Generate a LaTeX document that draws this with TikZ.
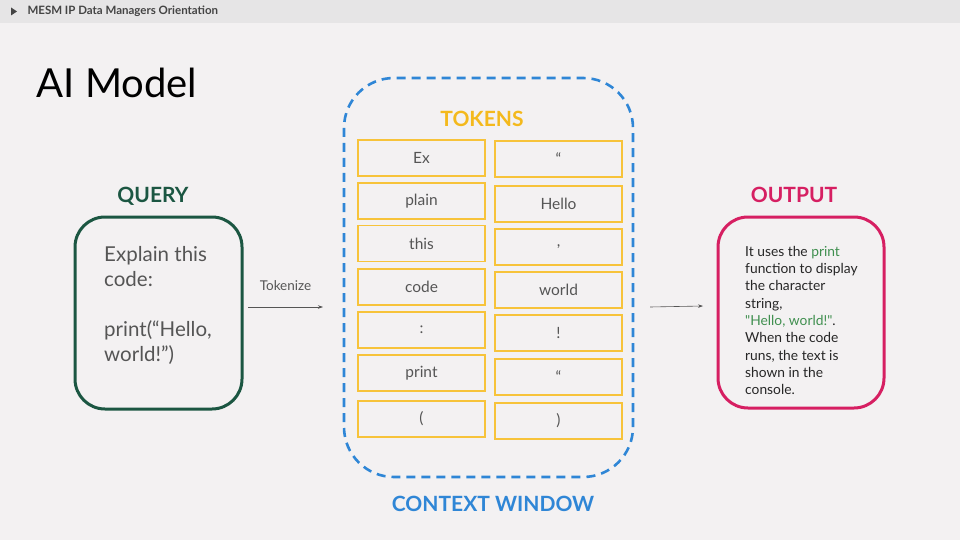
\documentclass[tikz,border=0pt]{standalone}
\usepackage{fontspec}
\setmainfont{Lato}
\usetikzlibrary{arrows.meta}
\definecolor{bgcol}{HTML}{F3F1F2}
\definecolor{barcol}{HTML}{E6E5E6}
\definecolor{querygreen}{HTML}{1B5642}
\definecolor{ctxblue}{HTML}{2F86D6}
\definecolor{tokyellow}{HTML}{F7C33A}
\definecolor{tokhead}{HTML}{F4B91C}
\definecolor{outred}{HTML}{D61F62}
\definecolor{txtgray}{HTML}{555555}
\definecolor{hlgreen}{HTML}{3F8F4F}
\begin{document}
\begin{tikzpicture}[x=1pt,y=-1pt,
  tokbox/.style={draw=tokyellow,line width=1.6pt,minimum width=127pt,minimum height=36pt,inner sep=0pt,text=txtgray,font=\fontsize{15.5}{18}\selectfont},
  heading/.style={font=\bfseries\fontsize{21}{25}\selectfont},
  bigbox/.style={rounded corners=30pt,line width=3pt,minimum width=167pt,minimum height=192pt},
  arr/.style={draw=txtgray,line width=0.6pt,-{Stealth[length=5pt,width=3.5pt]}}]
\useasboundingbox (0,0) rectangle (960,540);
\fill[bgcol] (0,0) rectangle (960,540);
\fill[barcol] (0,0) rectangle (960,23);
\fill[txtgray!80!black] (11,7.5) -- (17,11.5) -- (11,15.5) -- cycle;
\node[anchor=west,text=txtgray!80!black,font=\bfseries\fontsize{11.5}{13}\selectfont] (bar) at (24,11.5) {MESM IP Data Managers Orientation};

\node[anchor=west,font=\fontsize{40}{48}\selectfont] (title) at (33,83) {AI Model};

% query
\node[heading,text=querygreen] (querylbl) at (153,196) {QUERY};
\node[bigbox,draw=querygreen] (query) at (158.5,313) {};
\node[anchor=north west,align=left,text=txtgray,font=\fontsize{20.5}{25}\selectfont,inner sep=0pt] (querytxt) at (104,246) {Explain this\\code:\\[25pt]print(“Hello,\\world!”)};

\coordinate (tokstart) at (248,307);
\coordinate (tokend) at (323,307);
\draw[arr] (tokstart) -- node[above=13pt,text=txtgray,font=\fontsize{13.5}{15}\selectfont] (toklbl) {Tokenize} (tokend);

% context window
\draw[ctxblue,line width=2.6pt,dash pattern=on 9pt off 6pt,rounded corners=50pt] (344,78) rectangle (633,477);
\node[heading,text=tokhead] (tokens) at (482,119) {TOKENS};
\node[heading,text=ctxblue] (ctxlbl) at (493,504) {CONTEXT WINDOW};

\foreach \name/\y/\txt in {la/158/Ex,lb/201/plain,lc/243.5/this,ld/287/code,le/330/:,lf/373/print,lg/419/(}
  \node[tokbox] (\name) at (421.5,\y) {\txt};
\foreach \name/\y/\txt in {ra/159/“,rb/204/Hello,rc/247/{,},rd/290/world,re/333/!,rf/377/“,rg/421/)}
  \node[tokbox] (\name) at (558.5,\y) {\txt};

\coordinate (outstart) at (650,307);
\coordinate (outend) at (703,306);
\draw[arr] (outstart) -- (outend);

% output
\node[heading,text=outred] (outlbl) at (794,195) {OUTPUT};
\node[bigbox,draw=outred,minimum width=166pt,minimum height=191pt] (output) at (801,312.5) {};
\node[anchor=north west,align=left,text=black!85,font=\fontsize{13.8}{17.3}\selectfont,inner sep=0pt] (outtxt) at (745,246) {It uses the \textcolor{hlgreen}{print}\\function to display\\the character\\string,\\\textcolor{hlgreen}{\textquotedbl Hello, world!\textquotedbl}.\\When the code\\runs, the text is\\shown in the\\console.};

\end{tikzpicture}
\end{document}
